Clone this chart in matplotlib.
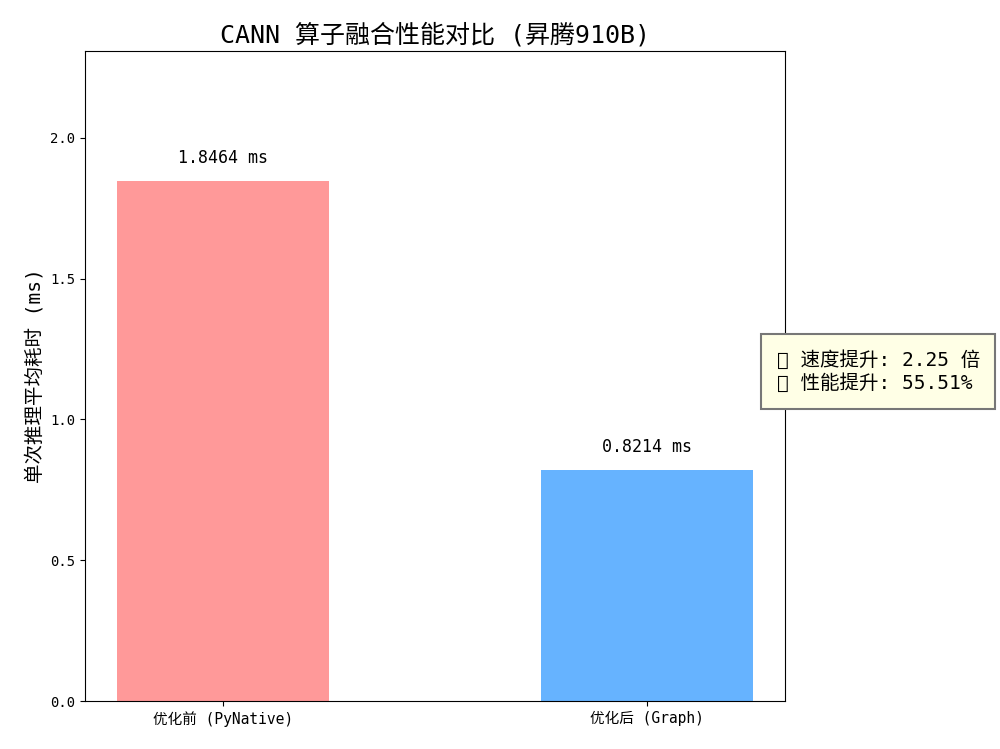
import matplotlib
matplotlib.use("Agg")
import matplotlib.pyplot as plt

plt.rcParams['font.family'] = ['DejaVu Sans Mono', 'Noto Sans CJK SC', 'DejaVu Sans']
plt.rcParams['axes.unicode_minus'] = False

categories = ['优化前 (PyNative)', '优化后 (Graph)']
times_ms = [1.8464, 0.8214]
colors = ['#ff9999', '#66b3ff']
speedup = 2.25
improvement_pct = 55.51

fig = plt.figure(figsize=(10, 7.49), dpi=100)
ax = fig.add_axes([0.085, 0.064, 0.70, 0.868])

bars = ax.bar(categories, times_ms, color=colors, width=0.5)
ax.set_ylim(0, max(times_ms) * 1.25)
ax.set_ylabel('单次推理平均耗时 (ms)', fontsize=14)
ax.set_title('CANN 算子融合性能对比 (昇腾910B)', fontsize=18)
ax.tick_params(axis='x', labelsize=10.5)

for b, v in zip(bars, times_ms):
    ax.text(b.get_x() + b.get_width() / 2, v + 0.05, f'{v:.4f} ms',
            ha='center', va='bottom', fontsize=12)

ax.text(1.305, 1.17, f'🚀 速度提升: {speedup:.2f} 倍\n📈 性能提升: {improvement_pct:.2f}%',
        fontsize=14, ha='left', va='center', linespacing=1.25,
        bbox=dict(boxstyle='square,pad=0.8', facecolor='#ffffe6', edgecolor='#777777', linewidth=1.5),
        clip_on=False)

fig.savefig('out.png', dpi=100)
